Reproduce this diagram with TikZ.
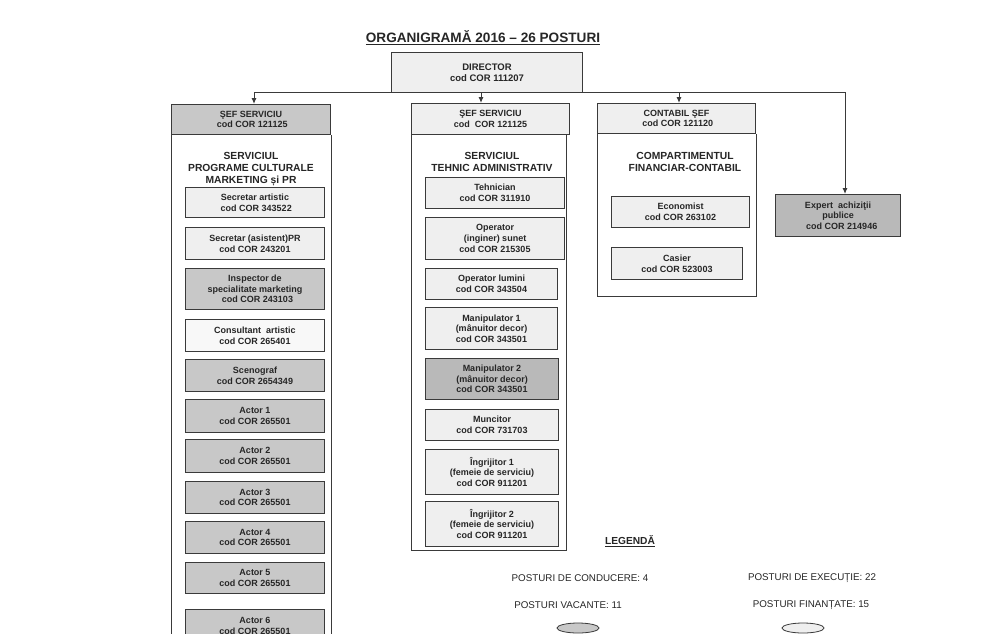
\documentclass[tikz,border=0pt]{standalone}
\usepackage{fontspec}
\setmainfont{Liberation Sans}
\usetikzlibrary{arrows.meta,shapes.geometric}
\definecolor{lgray}{HTML}{EFEFEF}
\definecolor{wgray}{HTML}{F8F8F8}
\definecolor{mgray}{HTML}{C8C8C8}
\definecolor{dgray}{HTML}{B9B9B9}
\definecolor{ink}{HTML}{3A3A3A}
\begin{document}
\begin{tikzpicture}[x=1pt,y=-1pt,
  orgbox/.style={draw=ink, line width=1pt, anchor=north west, inner sep=0pt, align=center,
    text=black!85, font=\bfseries\fontsize{9}{10.6}\selectfont},
  frame/.style={draw=ink, line width=1pt},
  conn/.style={draw=ink, line width=1pt},
  arr/.style={conn, -{Latex[length=6pt,width=5pt]}},
  sectitle/.style={align=center, text=black!85, font=\bfseries\fontsize{10.3}{12.3}\selectfont},
  legtext/.style={text=black!85, font=\fontsize{9.8}{12}\selectfont},
  legmark/.style={ellipse, draw=ink, line width=0.8pt, inner sep=0pt, minimum width=42pt, minimum height=10pt}
]
\path[use as bounding box, clip] (0,0) rectangle (1007,633);
\fill[white] (0,0) rectangle (1007,633);

% title
\node[text=black!85, font=\bfseries\fontsize{13.6}{16}\selectfont] (title) at (483,38) {\underline{ORGANIGRAMĂ 2016 – 26 POSTURI}};

% director
\node[orgbox, fill=lgray, minimum width=191pt, minimum height=40pt, font=\bfseries\fontsize{9.5}{11.5}\selectfont] (dir) at (391,52) {DIRECTOR\\cod COR 111207};

% headers
\node[orgbox, fill=mgray, minimum width=159pt, minimum height=30pt] (lhead) at (171,104) {ŞEF SERVICIU\\\ cod COR 121125};
\node[orgbox, fill=lgray, minimum width=158pt, minimum height=31pt] (mhead) at (411,103) {ŞEF SERVICIU\\cod\ \ COR 121125};
\node[orgbox, fill=lgray, minimum width=158pt, minimum height=30pt] (rhead) at (597,103) {CONTABIL ŞEF\\\ cod COR 121120};
\node[orgbox, fill=dgray, minimum width=125pt, minimum height=42pt] (expert) at (775,194) {Expert\ \ achiziţii\\publice\\\ \ \ cod COR 214946};

% bus and arrows
\coordinate (b1) at (254,92);
\coordinate (b2) at (481,92);
\coordinate (b3) at (679,92);
\coordinate (bE) at (845,92);
\draw[conn] (b1) -- (bE);
\draw[arr] (b1) -- (b1 |- lhead.north);
\draw[arr] (b2) -- (b2 |- mhead.north);
\draw[arr] (b3) -- (b3 |- rhead.north);
\draw[arr] (bE) -- (bE |- expert.north);

% column frames
\draw[frame] (lhead.south west) -- ++(0,520);
\draw[frame] (lhead.south east) -- ++(0,520);
\draw[frame] (mhead.south west) |- (566,550) -- (566,134);
\draw[frame] (rhead.south west) |- (756,296) -- (rhead.south east);

% section titles
\node[sectitle] (ltitle) at (251,169) {SERVICIUL\\PROGRAME CULTURALE\\MARKETING și PR};
\node[sectitle] (mtitle) at (492,162) {SERVICIUL\\TEHNIC ADMINISTRATIV};
\node[sectitle] (rtitle) at (685,162) {COMPARTIMENTUL\\FINANCIAR-CONTABIL};

% left column
\node[orgbox, fill=lgray, minimum width=139pt, minimum height=30pt] (sa) at (185,187) {Secretar artistic\\\ cod COR 343522};
\node[orgbox, fill=lgray, minimum width=139pt, minimum height=32pt] (spr) at (185,227) {Secretar (asistent)PR\\cod COR 243201};
\node[orgbox, fill=mgray, minimum width=139pt, minimum height=41pt] (insp) at (185,268) {Inspector de\\specialitate marketing\\\ \ cod COR 243103};
\node[orgbox, fill=wgray, minimum width=139pt, minimum height=32pt] (cons) at (185,319) {Consultant\ \ artistic\\cod COR 265401};
\node[orgbox, fill=mgray, minimum width=139pt, minimum height=32pt] (scen) at (185,359) {Scenograf\\cod COR 2654349};
\node[orgbox, fill=mgray, minimum width=139pt, minimum height=33pt] (a1) at (185,399) {Actor 1\\cod COR 265501};
\node[orgbox, fill=mgray, minimum width=139pt, minimum height=33pt] (a2) at (185,439) {Actor 2\\cod COR 265501};
\node[orgbox, fill=mgray, minimum width=139pt, minimum height=32pt] (a3) at (185,481) {Actor 3\\cod COR 265501};
\node[orgbox, fill=mgray, minimum width=139pt, minimum height=32pt] (a4) at (185,521) {Actor 4\\cod COR 265501};
\node[orgbox, fill=mgray, minimum width=139pt, minimum height=31pt] (a5) at (185,562) {Actor 5\\cod COR 265501};
\node[orgbox, fill=mgray, minimum width=139pt, minimum height=33pt] (a6) at (185,609) {Actor 6\\cod COR 265501};

% middle column
\node[orgbox, fill=lgray, minimum width=139pt, minimum height=31pt] (teh) at (425,177) {Tehnician\\cod COR 311910};
\node[orgbox, fill=lgray, minimum width=139pt, minimum height=42pt] (ops) at (425,217) {Operator\\(inginer) sunet\\cod COR 215305};
\node[orgbox, fill=lgray, minimum width=132pt, minimum height=31pt] (opl) at (425,268) {Operator lumini\\cod COR 343504};
\node[orgbox, fill=lgray, minimum width=132pt, minimum height=42pt] (m1) at (425,307) {Manipulator 1\\(mânuitor decor)\\cod COR 343501};
\node[orgbox, fill=dgray, minimum width=133pt, minimum height=41pt] (m2) at (425,358) {Manipulator 2\\(mânuitor decor)\\cod COR 343501};
\node[orgbox, fill=lgray, minimum width=133pt, minimum height=31pt] (mun) at (425,409) {Muncitor\\cod COR 731703};
\node[orgbox, fill=lgray, minimum width=133pt, minimum height=45pt] (i1) at (425,449) {Îngrijitor 1\\(femeie de serviciu)\\cod COR 911201};
\node[orgbox, fill=lgray, minimum width=133pt, minimum height=45pt] (i2) at (425,501) {Îngrijitor 2\\(femeie de serviciu)\\cod COR 911201};

% right column
\node[orgbox, fill=lgray, minimum width=138pt, minimum height=31pt] (eco) at (611,196) {Economist\\cod COR 263102};
\node[orgbox, fill=lgray, minimum width=131pt, minimum height=32pt] (cas) at (611,247) {Casier\\cod COR 523003};

% legend
\node[text=black!85, font=\bfseries\fontsize{10.2}{12}\selectfont] (leg) at (630,541) {\underline{LEGENDĂ}};
\node[legtext] (lcond) at (580,578) {POSTURI DE CONDUCERE: 4};
\node[legtext] (lexec) at (812,578) {POSTURI DE EXECUȚIE: 22};
\node[legtext] (lvac) at (568,605) {POSTURI VACANTE: 11};
\node[legtext] (lfin) at (811,605) {POSTURI FINANȚATE: 15};
\node[legmark, fill=mgray] (mvac) at (578,628) {};
\node[legmark, fill=lgray] (mfin) at (803,628) {};
\end{tikzpicture}
\end{document}
